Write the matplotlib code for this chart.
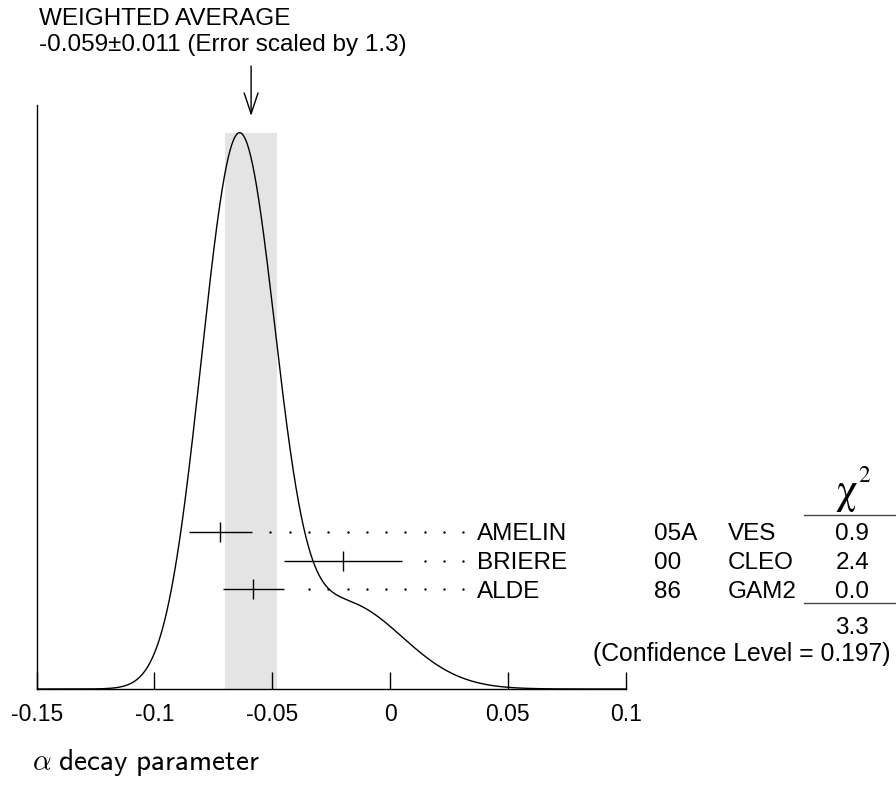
import numpy as np
import matplotlib
matplotlib.use('Agg')
import matplotlib.pyplot as plt
from matplotlib.lines import Line2D

# ---------------- data ----------------
names = ['AMELIN', 'BRIERE', 'ALDE']
years = ['05A', '00', '86']
experiments = ['VES', 'CLEO', 'GAM2']
values = [-0.072, -0.020, -0.058]
errors = [0.0134, 0.025, 0.013]
chi2_values = ['0.9', '2.4', '0.0']
chi2_total = '3.3'
confidence_level = '0.197'
avg_value = -0.059
avg_error = 0.011
error_scale = '1.3'
tick_values = [-0.15, -0.1, -0.05, 0, 0.05, 0.1]
tick_labels = ['-0.15', '-0.1', '-0.05', '0', '0.05', '0.1']
x_label = r'$\alpha$ $\mathsf{decay\ parameter}$'

# ---------------- layout (pixels) ----------------
W, H = 896, 789
AX_L, AX_R, AX_B, AX_T = 36.7, 625.7, 689.0, 105.0
PEAK_PX = 132.7
ROW_PX = [532.0, 560.7, 589.0]

plt.rcParams['font.family'] = ['Liberation Sans', 'DejaVu Sans']
plt.rcParams['mathtext.fontset'] = 'cm'

fig = plt.figure(figsize=(W / 100, H / 100), dpi=100)


def fx(px):
    return px / W


def fy(py):
    return 1 - py / H


def ay(py):
    return (AX_B - py) / (AX_B - AX_T)


def px_to_x(px):
    return tick_values[0] + (px - AX_L) * (tick_values[-1] - tick_values[0]) / (AX_R - AX_L)


ax = fig.add_axes([fx(AX_L), fy(AX_B), (AX_R - AX_L) / W, (AX_B - AX_T) / H])
ax.set_xlim(tick_values[0], tick_values[-1])
ax.set_ylim(0, 1)
for s in ['top', 'right']:
    ax.spines[s].set_visible(False)
for s in ['left', 'bottom']:
    ax.spines[s].set_linewidth(1.0)
ax.set_yticks([])
ax.set_xticks(tick_values)
ax.set_xticklabels(tick_labels, fontsize=16.5)
ax.tick_params(axis='x', direction='in', length=12.2, width=1.0, pad=10)

# ideogram
peak = ay(PEAK_PX)
xs = np.linspace(tick_values[0], tick_values[-1], 1500)
ideo = np.zeros_like(xs)
for v, e in zip(values, errors):
    ideo += (1.0 / e) * np.exp(-0.5 * ((xs - v) / e) ** 2) / (e * np.sqrt(2 * np.pi))
ideo = ideo / ideo.max() * peak

ax.fill_between([avg_value - avg_error, avg_value + avg_error], 0, peak,
                color='#e4e4e4', lw=0, zorder=0)
ax.plot(xs, ideo, color='black', lw=1.0, zorder=2)

# arrow
ax.annotate('', xy=(avg_value, ay(116)), xytext=(avg_value, ay(66)),
            arrowprops=dict(arrowstyle='->,head_length=1.5,head_width=0.5',
                            lw=1.0, color='black', shrinkA=0, shrinkB=0),
            annotation_clip=False)

# measurements
rows = [ay(p) for p in ROW_PX]
ax.errorbar(values, rows, xerr=errors, fmt='none', ecolor='black',
            elinewidth=1.0, capsize=0, zorder=3)
ax.plot(values, rows, ls='none', marker='|', ms=14.5, mew=1.0,
        color='black', zorder=3)

dot_right = px_to_x(463.3)
dot_step = px_to_x(AX_L + 19.3) - px_to_x(AX_L)
gap = px_to_x(AX_L + 12) - px_to_x(AX_L)
for v, e, r in zip(values, errors, rows):
    dx = []
    x = dot_right
    while x > v + e + gap:
        dx.append(x)
        x -= dot_step
    ax.plot(dx, [r] * len(dx), ls='none', marker='o', ms=1.7,
            color='black', mew=0, zorder=3)

# right-side texts
FS = 17.5
for i, p in enumerate(ROW_PX):
    base = p + 8.5
    fig.text(fx(476.7), fy(base), names[i], fontsize=FS, va='baseline', ha='left')
    fig.text(fx(654), fy(base), years[i], fontsize=FS, va='baseline', ha='left')
    fig.text(fx(728), fy(base), experiments[i], fontsize=FS, va='baseline', ha='left')
    fig.text(fx(869), fy(base), chi2_values[i], fontsize=FS, va='baseline', ha='right')

fig.text(fx(869), fy(625 + 8.5), chi2_total, fontsize=FS, va='baseline', ha='right')
fig.text(fx(593), fy(653 + 8.5), '(Confidence Level = ' + confidence_level + ')',
         fontsize=17.8, va='baseline', ha='left')

# chi^2 header
fig.text(fx(846.5), fy(503), '\u03c7', fontsize=31, family=['STIXGeneral', 'DejaVu Serif'],
         va='baseline', ha='center')
fig.text(fx(858.5), fy(482), '2', fontsize=17, family=['STIXGeneral', 'DejaVu Serif'],
         va='baseline', ha='left')
for yy in [515, 602.7]:
    fig.add_artist(Line2D([fx(804), fx(896)], [fy(yy), fy(yy)], color='#444444', lw=1.0))

# title
TFS = 17.5
fig.text(fx(39.3), fy(25), 'WEIGHTED AVERAGE', fontsize=TFS, va='baseline', ha='left')
fig.text(fx(39.3), fy(51), '%.3f\u00b1%.3f (Error scaled by %s)' % (avg_value, avg_error, error_scale),
         fontsize=TFS, va='baseline', ha='left')

# x label
fig.text(fx(32), fy(763), x_label, fontsize=21, va='center', ha='left')

fig.savefig('out.png', dpi=100)
